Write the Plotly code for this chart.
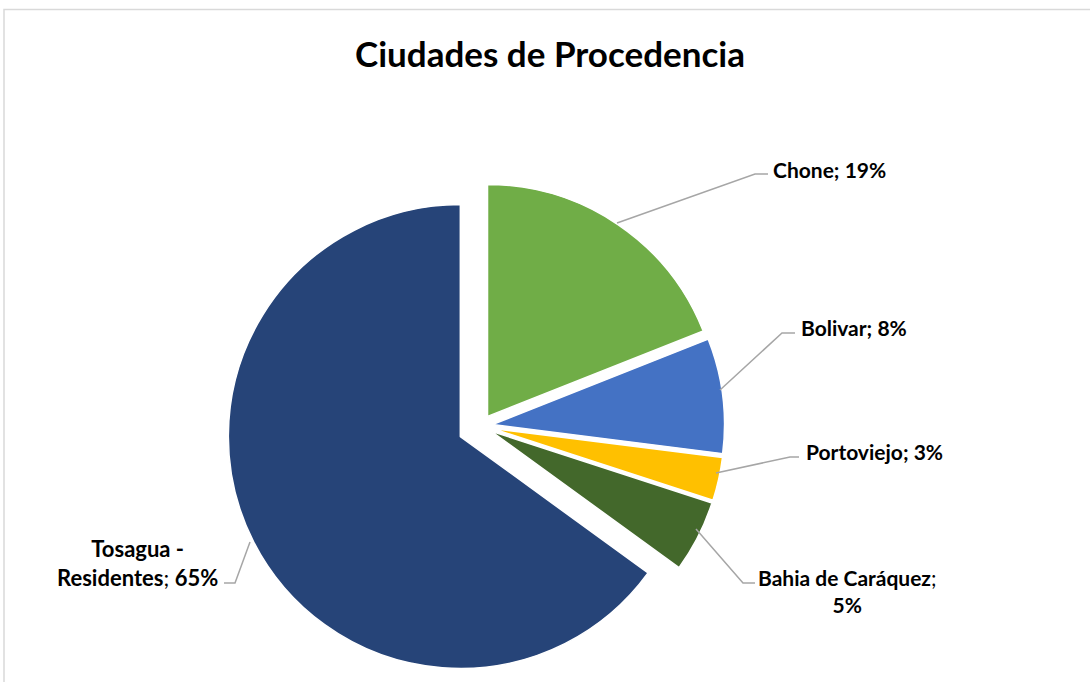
import plotly.graph_objects as go

W, H = 1090, 682

# ---- data ----
cities = ["Chone", "Bolivar", "Portoviejo", "Bahia de Caráquez", "Tosagua - Residentes"]
percents = [19, 8, 3, 5, 65]
colors = ["#70AD47", "#4472C4", "#FFC000", "#43682B", "#264478"]
pulls = [0.05, 0.05, 0.05, 0.05, 0.10]
title_text = "Ciudades de Procedencia"


def px(x, y):
    return x / W, (H - y) / H


# pie geometry (layout)
cx, cy, r = 481, 426, 232
half = r * (1 + max(pulls))
dx0, dy0 = px(cx - half, cy + half)
dx1, dy1 = px(cx + half, cy - half)

fig = go.Figure(go.Pie(
    labels=cities,
    values=percents,
    sort=False,
    direction="clockwise",
    rotation=0,
    pull=pulls,
    marker=dict(colors=colors, line=dict(color="white", width=1.5)),
    textinfo="none",
    hoverinfo="label+percent",
    showlegend=False,
    domain=dict(x=[dx0, dx1], y=[max(dy0, 0), min(dy1, 1)]),
))

FONT = "Lato"


def lab(i, split=False):
    name = cities[i]
    if split:
        parts = name.split(" - ")
        return f"<b>{parts[0]} -</b><br><b>{parts[1]}</b>; <b>{percents[i]}%</b>"
    if i == 3:
        return f"<b>{name}</b>;<br><b>{percents[i]}%</b>"
    return f"<b>{name}; {percents[i]}%</b>"


# label placements (layout): (x, y, xanchor)
placements = [
    (771, 169, "left"),
    (799, 327, "left"),
    (804, 451, "left"),
    (847, 591, "center"),
    (137, 563, "center"),
]
sizes = [21, 21, 21, 21, 22]
annotations = []
for i, (x, y, xa) in enumerate(placements):
    ax, ay = px(x, y)
    annotations.append(dict(
        x=ax, y=ay, xref="paper", yref="paper", xanchor=xa, yanchor="middle",
        text=lab(i, split=(i == 4)), showarrow=False, align="center",
        font=dict(family=FONT, size=sizes[i], color="#000000"),
    ))

# leader lines (layout), pixel paths
leaders = [
    [(617, 223), (755, 174), (768, 174)],
    [(720, 390), (782, 333), (795, 333)],
    [(716, 473), (790, 457), (799, 457)],
    [(696, 529), (743, 583), (755, 583)],
    [(250, 542), (235, 583), (224, 583)],
]
shapes = []
for pts in leaders:
    d = ""
    for k, (x, y) in enumerate(pts):
        fx, fy = px(x, y)
        d += ("M" if k == 0 else "L") + f"{fx},{fy} "
    shapes.append(dict(type="path", xref="paper", yref="paper", path=d,
                       line=dict(color="#A6A6A6", width=1.5)))

# chart border (top & left visible)
bx0, by1 = px(4, 9.5)
shapes.append(dict(type="rect", xref="paper", yref="paper",
                   x0=bx0, y0=-0.1, x1=1.1, y1=by1,
                   line=dict(color="#D9D9D9", width=1.5), fillcolor="rgba(0,0,0,0)"))

tx, ty = px(550, 55)
fig.update_layout(
    width=W, height=H,
    margin=dict(l=0, r=0, t=0, b=0),
    paper_bgcolor="white", plot_bgcolor="white",
    title=dict(text=f"<b>{title_text}</b>", x=tx, y=ty, xanchor="center", yanchor="middle",
               xref="paper", yref="paper",
               font=dict(family=FONT, size=35, color="#000000")),
    annotations=annotations,
    shapes=shapes,
)

fig.write_html("out.html", config={"displayModeBar": False},
               post_script="document.body.style.margin='0';")
